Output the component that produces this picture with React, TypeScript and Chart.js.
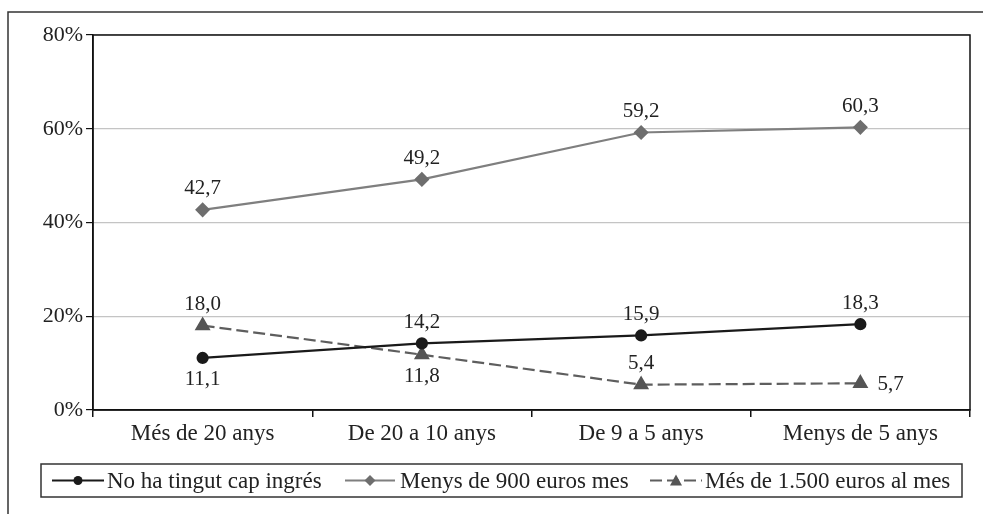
import React, { useEffect, useRef } from "react";
import { Chart, registerables } from "chart.js";

Chart.register(...registerables);

const categories = ["Més de 20 anys", "De 20 a 10 anys", "De 9 a 5 anys", "Menys de 5 anys"];
const seriesNames = ["No ha tingut cap ingrés", "Menys de 900 euros mes", "Més de 1.500 euros al mes"];
const noIngres = [11.1, 14.2, 15.9, 18.3];
const menys900 = [42.7, 49.2, 59.2, 60.3];
const mes1500 = [18.0, 11.8, 5.4, 5.7];
const yTicks = [0, 20, 40, 60, 80];

const labelPos = [
  ["below", "above", "above", "above"],
  ["above", "above", "above", "above"],
  ["above", "below", "above", "right"],
];

const FONT = "'Liberation Serif', 'DejaVu Serif', serif";

export default function App() {
  const ref = useRef<HTMLCanvasElement | null>(null);
  useEffect(() => {
    const canvas = ref.current!;
    const decor = {
      id: "decor",
      beforeDraw(chart: any) {
        const ctx = chart.ctx;
        ctx.save();
        ctx.fillStyle = "#fff";
        ctx.fillRect(0, 0, chart.width, chart.height);
        ctx.strokeStyle = "#333";
        ctx.lineWidth = 1.5;
        ctx.beginPath();
        ctx.moveTo(8, 514);
        ctx.lineTo(8, 12);
        ctx.lineTo(983, 12);
        ctx.stroke();
        ctx.restore();
      },
      afterDraw(chart: any) {
        const ctx = chart.ctx;
        const a = chart.chartArea;
        ctx.save();
        ctx.strokeStyle = "#111";
        ctx.lineWidth = 1.5;
        ctx.strokeRect(a.left, a.top, a.right - a.left, a.bottom - a.top);
        // data labels
        ctx.font = `21px ${FONT}`;
        ctx.fillStyle = "#222";
        chart.data.datasets.forEach((ds: any, di: number) => {
          const meta = chart.getDatasetMeta(di);
          meta.data.forEach((pt: any, i: number) => {
            const txt = ds.data[i].toFixed(1).replace(".", ",");
            const pos = labelPos[di][i];
            if (pos === "right") {
              ctx.textAlign = "left";
              ctx.textBaseline = "middle";
              ctx.fillText(txt, pt.x + 17, pt.y + 1);
            } else if (pos === "above") {
              ctx.textAlign = "center";
              ctx.textBaseline = "middle";
              ctx.fillText(txt, pt.x, pt.y - 21);
            } else {
              ctx.textAlign = "center";
              ctx.textBaseline = "middle";
              ctx.fillText(txt, pt.x, pt.y + 22);
            }
          });
        });
        // legend
        const lx = 41, ly = 464, lw = 921, lh = 33;
        ctx.strokeStyle = "#333";
        ctx.lineWidth = 1.5;
        ctx.strokeRect(lx, ly, lw, lh);
        const cy = ly + lh / 2;
        const items = [
          { x0: 52, x1: 104, tx: 107 },
          { x0: 345, x1: 395, tx: 400 },
          { x0: 650, x1: 702, tx: 705 },
        ];
        chart.data.datasets.forEach((ds: any, di: number) => {
          const it = items[di];
          ctx.save();
          ctx.strokeStyle = ds.borderColor;
          ctx.lineWidth = ds.borderWidth;
          ctx.setLineDash(ds.borderDash || []);
          ctx.beginPath();
          ctx.moveTo(it.x0, cy);
          ctx.lineTo(it.x1, cy);
          ctx.stroke();
          ctx.restore();
          const mx = (it.x0 + it.x1) / 2;
          ctx.fillStyle = ds.pointBackgroundColor;
          ctx.beginPath();
          if (ds.pointStyle === "circle") {
            ctx.arc(mx, cy, 4.5, 0, Math.PI * 2);
          } else if (ds.pointStyle === "rectRot") {
            ctx.moveTo(mx, cy - 5.5);
            ctx.lineTo(mx + 5.5, cy);
            ctx.lineTo(mx, cy + 5.5);
            ctx.lineTo(mx - 5.5, cy);
          } else {
            ctx.moveTo(mx, cy - 6);
            ctx.lineTo(mx + 6, cy + 5);
            ctx.lineTo(mx - 6, cy + 5);
          }
          ctx.closePath();
          ctx.fill();
          ctx.fillStyle = "#222";
          ctx.textAlign = "left";
          ctx.textBaseline = "middle";
          ctx.font = `23px ${FONT}`;
          ctx.fillText(ds.label, it.tx, cy + 1);
        });
        ctx.restore();
      },
    };
    const chart = new Chart(canvas, {
      type: "line",
      data: {
        labels: categories,
        datasets: [
          {
            label: seriesNames[0],
            data: noIngres,
            borderColor: "#1a1a1a",
            backgroundColor: "#1a1a1a",
            pointBackgroundColor: "#1a1a1a",
            pointBorderColor: "#1a1a1a",
            borderWidth: 2.2,
            pointStyle: "circle",
            pointRadius: 5,
          },
          {
            label: seriesNames[1],
            data: menys900,
            borderColor: "#7f7f7f",
            backgroundColor: "#7f7f7f",
            pointBackgroundColor: "#6e6e6e",
            pointBorderColor: "#6e6e6e",
            borderWidth: 2.2,
            pointStyle: "rectRot",
            pointRadius: 6,
          },
          {
            label: seriesNames[2],
            data: mes1500,
            borderColor: "#5e5e5e",
            backgroundColor: "#555555",
            pointBackgroundColor: "#555555",
            pointBorderColor: "#555555",
            borderWidth: 2.2,
            borderDash: [12, 5],
            pointStyle: "triangle",
            pointRadius: 7,
          },
        ],
      },
      options: {
        animation: false,
        responsive: false,
        maintainAspectRatio: false,
        layout: { padding: { top: 35, right: 13, left: 0, bottom: 0 } },
        plugins: { legend: { display: false }, tooltip: { enabled: false } },
        scales: {
          x: {
            offset: true,
            grid: {
              offset: true,
              drawOnChartArea: false,
              drawTicks: true,
              tickLength: 7,
              tickColor: "#111",
              lineWidth: 1.5,
            },
            border: { color: "#111", width: 1.5 },
            ticks: { color: "#222", font: { family: FONT, size: 23 }, padding: 3 },
            afterFit(scale: any) {
              scale.height = 104;
            },
          },
          y: {
            min: 0,
            max: 80,
            afterBuildTicks(scale: any) {
              scale.ticks = yTicks.map((v) => ({ value: v }));
            },
            grid: {
              color: "#c4c4c4",
              lineWidth: 1.2,
              tickLength: 7,
              tickColor: "#111",
              drawTicks: true,
            },
            border: { color: "#111", width: 1.5 },
            ticks: {
              color: "#222",
              font: { family: FONT, size: 22 },
              padding: 3,
              callback: (v: any) => `${v}%`,
            },
            afterFit(scale: any) {
              scale.width = 93;
            },
          },
        },
      },
      plugins: [decor],
    });
    return () => chart.destroy();
  }, []);
  return (
    <div style={{ position: "absolute", left: 0, top: 0, width: 983, height: 514, background: "#fff" }}>
      <canvas ref={ref} width={983} height={514} style={{ width: 983, height: 514, display: "block" }} />
    </div>
  );
}
